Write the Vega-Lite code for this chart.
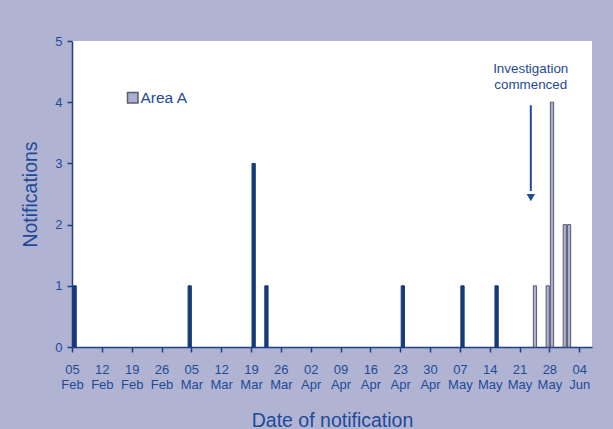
{
  "$schema": "https://vega.github.io/schema/vega-lite/v6.json",
  "width": 520,
  "height": 306,
  "autosize": "none",
  "padding": {"left": 72, "top": 41, "right": 21, "bottom": 82},
  "background": "#b0b4d2",
  "view": {"fill": "white", "stroke": null},
  "config": {
    "font": "Liberation Sans",
    "axis": {"domainColor": "#1f3f86", "tickColor": "#1f3f86", "labelColor": "#1f4a98", "titleColor": "#1f4a98", "domainWidth": 1.5, "tickWidth": 1.5, "grid": false, "titleFontWeight": "normal"}
  },
  "datasets": {
    "cases": [
      {"date": "2007-02-05", "area": "Other", "n": 1},
      {"date": "2007-03-04", "area": "Other", "n": 1},
      {"date": "2007-03-19", "area": "Other", "n": 3},
      {"date": "2007-03-22", "area": "Other", "n": 1},
      {"date": "2007-04-23", "area": "Other", "n": 1},
      {"date": "2007-05-07", "area": "Other", "n": 1},
      {"date": "2007-05-15", "area": "Other", "n": 1},
      {"date": "2007-05-24", "area": "Area A", "n": 1},
      {"date": "2007-05-27", "area": "Area A", "n": 1},
      {"date": "2007-05-28", "area": "Area A", "n": 4},
      {"date": "2007-05-31", "area": "Area A", "n": 2},
      {"date": "2007-06-01", "area": "Area A", "n": 2}
    ],
    "arrow": [{"x": "2007-05-23T15:30:00Z", "y1": 3.95, "y2": 2.55, "tip": 2.44}],
    "note": [{"x": "2007-05-23T15:00:00Z", "y": 4.55, "label": ["Investigation", "commenced"]}]
  },
  "layer": [
    {
      "data": {"name": "cases"},
      "mark": {"type": "bar", "strokeWidth": 1},
      "encoding": {
        "x": {
          "field": "date", "type": "temporal", "timeUnit": "utcyearmonthdate",
          "scale": {"type": "utc", "domain": [1170633600000, 1181174400000]},
          "axis": {
            "title": "Date of notification",
            "titleFontSize": 19.5,
            "titlePadding": 20,
            "values": [1170633600000, 1171238400000, 1171843200000, 1172448000000, 1173052800000, 1173657600000, 1174262400000, 1174867200000, 1175472000000, 1176076800000, 1176681600000, 1177286400000, 1177891200000, 1178496000000, 1179100800000, 1179705600000, 1180310400000, 1180915200000],
            "tickCount": 18,
            "labelExpr": "[utcFormat(datum.value, '%d'), utcFormat(datum.value, '%b')]",
            "labelFontSize": 13,
            "labelLineHeight": 15,
            "labelPadding": 11,
            "tickSize": 5,
            "labelOverlap": false,
            "labelFlush": false,
            "labelBound": false
          }
        },
        "y": {
          "field": "n", "type": "quantitative",
          "scale": {"domain": [0, 5]},
          "axis": {"title": "Notifications", "titleFontSize": 19.5, "titlePadding": 14, "values": [0, 1, 2, 3, 4, 5], "format": "d", "labelFontSize": 13, "tickSize": 5, "labelPadding": 5}
        },
        "color": {
          "field": "area", "type": "nominal",
          "scale": {"domain": ["Other", "Area A"], "range": ["#173a78", "#a9aed3"]},
          "legend": {"values": ["Area A"], "title": null, "orient": "none", "legendX": 53, "legendY": 49, "symbolType": "square", "symbolSize": 110, "symbolStrokeColor": "#505060", "symbolStrokeWidth": 1.5, "labelFontSize": 15.5, "labelColor": "#1f4a98", "labelOffset": 0}
        },
        "stroke": {
          "field": "area", "type": "nominal",
          "scale": {"domain": ["Other", "Area A"], "range": ["#173a78", "#5c5c6c"]},
          "legend": null
        }
      }
    },
    {
      "data": {"name": "arrow"},
      "mark": {"type": "rule", "color": "#1f4a98", "strokeWidth": 2},
      "encoding": {
        "x": {"field": "x", "type": "temporal"},
        "y": {"field": "y1", "type": "quantitative"},
        "y2": {"field": "y2"}
      }
    },
    {
      "data": {"name": "arrow"},
      "mark": {"type": "point", "shape": "triangle-down", "filled": true, "color": "#1f4a98", "size": 70, "opacity": 1},
      "encoding": {
        "x": {"field": "x", "type": "temporal"},
        "y": {"field": "tip", "type": "quantitative"}
      }
    },
    {
      "data": {"name": "note"},
      "mark": {"type": "text", "fontSize": 13.4, "color": "#1f4a98", "lineHeight": 16, "align": "center", "baseline": "middle"},
      "encoding": {
        "x": {"field": "x", "type": "temporal"},
        "y": {"field": "y", "type": "quantitative"},
        "text": {"field": "label"}
      }
    }
  ]
}
